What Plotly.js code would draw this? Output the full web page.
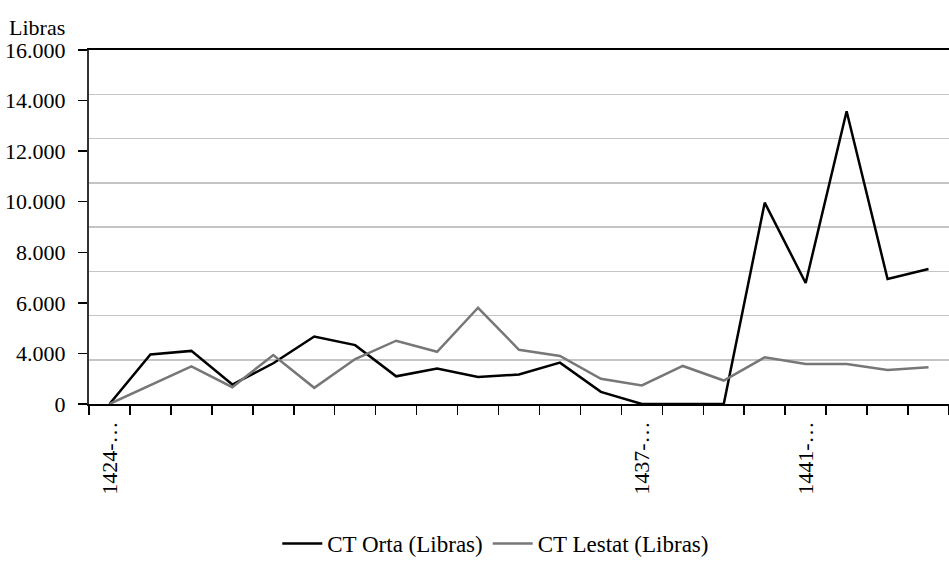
<!DOCTYPE html>
<html>
<head>
<meta charset="utf-8">
<script src="https://cdn.plot.ly/plotly-3.0.1.min.js"></script>
<style>
html,body{margin:0;padding:0;background:#fff;}
#chart{width:949px;height:565px;}
#chart svg text{font-family:'Liberation Serif','Tinos',serif !important;}
</style>
</head>
<body>
<div id="chart"></div>
<script>
// ---- data ----
var periodIndex = [0,1,2,3,4,5,6,7,8,9,10,11,12,13,14,15,16,17,18,19,20];
var shownTickIndex = [0, 13, 17];
var shownTickText = ["1424-…", "1437-…", "1441-…"];
var ctOrta   = [0,2240,2400,880,1840,3050,2660,1250,1600,1220,1330,1870,550,0,0,0,9100,5470,13230,5650,6100];
var ctLestat = [0,850,1700,760,2210,730,2030,2860,2360,4350,2450,2170,1140,840,1720,1060,2110,1810,1810,1540,1660];
var yTickLabels = ["0","4.000","6.000","8.000","10.000","12.000","14.000","16.000"];
var seriesNames = ["CT Orta (Libras)", "CT Lestat (Libras)"];
var unitLabel = "Libras";

var FONT = "Liberation Serif";
var n = periodIndex.length;
var boundaries = [];
for (var i = 0; i <= n; i++) boundaries.push(i - 0.5);
var yLabelPos = yTickLabels.map(function(_, i){ return i; });

var traces = [
  {x: periodIndex, y: ctOrta, name: seriesNames[0], type: "scatter", mode: "lines",
   line: {color: "#000000", width: 2.5}, xaxis: "x", yaxis: "y"},
  {x: periodIndex, y: ctLestat, name: seriesNames[1], type: "scatter", mode: "lines",
   line: {color: "#777777", width: 2.5}, xaxis: "x", yaxis: "y"}
];

var layout = {
  width: 949, height: 565,
  margin: {l: 89, r: 0, t: 50, b: 158},
  paper_bgcolor: "#ffffff", plot_bgcolor: "#ffffff",
  font: {family: FONT, size: 22, color: "#000"},
  showlegend: true,
  legend: {orientation: "h", x: 0.473, xanchor: "center", y: -0.395, yanchor: "middle",
           font: {family: FONT, size: 23, color: "#000"}, itemwidth: 40, tracegroupgap: 0},
  xaxis: {range: [-0.5, n - 0.5], tickmode: "array", tickvals: boundaries,
          ticktext: boundaries.map(function(){return "";}),
          ticks: "outside", ticklen: 9, tickwidth: 1.5, tickcolor: "#000",
          showline: true, linecolor: "#000", linewidth: 2, mirror: true,
          showgrid: false, zeroline: false, fixedrange: true},
  xaxis2: {overlaying: "x", matches: "x", range: [-0.5, n - 0.5], side: "bottom", anchor: "y",
           tickmode: "array", tickvals: shownTickIndex, ticktext: shownTickText,
           tickangle: -90, ticks: "", ticklabelstandoff: 12, showline: false, showgrid: false, zeroline: false,
           tickfont: {family: FONT, size: 22, color: "#000"}},
  yaxis: {range: [0, 16000], dtick: 2000, tick0: 0, showticklabels: false, ticks: "",
          showgrid: true, gridcolor: "#c4c4c4", gridwidth: 1.5, zeroline: false, showline: false,
          fixedrange: true},
  yaxis2: {overlaying: "y", range: [0, yTickLabels.length - 1], tickmode: "array",
           tickvals: yLabelPos, ticktext: yTickLabels, ticks: "outside", ticklen: 9,
           tickwidth: 1.5, tickcolor: "#000", showline: true, linecolor: "#333", linewidth: 2,
           showgrid: false, zeroline: false, side: "left", anchor: "x", ticklabelstandoff: 8,
           tickfont: {family: FONT, size: 22, color: "#000"}},
  annotations: [{text: unitLabel, xref: "paper", yref: "paper", x: -89/860 + 7/860, y: 1 + 23/357,
                 xanchor: "left", yanchor: "middle", showarrow: false,
                 font: {family: FONT, size: 22, color: "#000"}}]
};

// dummy trace so xaxis2 and yaxis2 get drawn
traces.push({x: [0], y: [0], xaxis: "x2", yaxis: "y2", mode: "markers",
             marker: {opacity: 0}, showlegend: false, hoverinfo: "skip"});

Plotly.newPlot("chart", traces, layout, {staticPlot: true, displayModeBar: false});
</script>
</body>
</html>
